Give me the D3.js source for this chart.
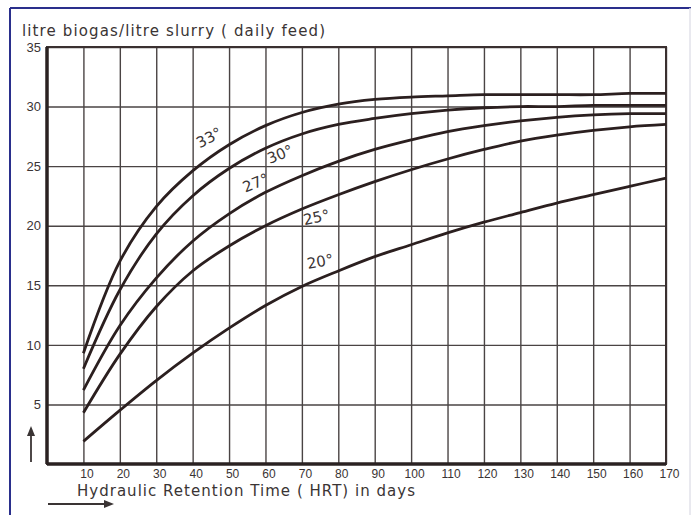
<!DOCTYPE html>
<html>
<head>
<meta charset="utf-8">
<script src="https://cdn.jsdelivr.net/npm/d3@7"></script>
<style>
  body { margin: 0; background: #fff; }
  svg { display: block; font-family: "DejaVu Sans", sans-serif; }
  .grid line { stroke: #4a4444; stroke-width: 1.4; }
  .grid text { fill: #3a3434; font-size: 12px; }
</style>
</head>
<body>
<div id="chart"></div>
<script>
// chart values
var hrtDays = [10, 20, 30, 40, 50, 60, 70, 80, 90, 100, 110, 120, 130, 140, 150, 160, 170];
var tempLabels = ["33°", "30°", "27°", "25°", "20°"];
var gas33 = [9.3, 17.0, 21.6, 24.6, 26.8, 28.4, 29.5, 30.2, 30.6, 30.8, 30.9, 31.0, 31.0, 31.0, 31.0, 31.1, 31.1];
var gas30 = [8.0, 14.6, 19.3, 22.5, 24.8, 26.5, 27.7, 28.5, 29.0, 29.4, 29.7, 29.9, 30.0, 30.0, 30.1, 30.1, 30.1];
var gas27 = [6.2, 11.6, 15.6, 18.7, 21.0, 22.8, 24.2, 25.4, 26.4, 27.2, 27.9, 28.4, 28.8, 29.1, 29.3, 29.4, 29.4];
var gas25 = [4.3, 9.2, 13.2, 16.2, 18.3, 20.0, 21.4, 22.6, 23.7, 24.7, 25.6, 26.4, 27.1, 27.6, 28.0, 28.3, 28.5];
var gas20 = [1.9, 4.5, 7.0, 9.3, 11.4, 13.3, 14.9, 16.2, 17.4, 18.4, 19.4, 20.3, 21.1, 21.9, 22.6, 23.3, 24.0];
var xTicks = [10, 20, 30, 40, 50, 60, 70, 80, 90, 100, 110, 120, 130, 140, 150, 160, 170];
var yTicks = [5, 10, 15, 20, 25, 30, 35];

var svgWidth = 693;
var svgHeight = 515;

var chartMargin = {
    top: 47,
    right: 27,
    left: 47,
    bottom: 51};

var chartWidth = svgWidth - chartMargin.left - chartMargin.right;
var chartHeight = svgHeight - chartMargin.top - chartMargin.bottom;

var svg = d3.select("#chart")
    .append("svg")
    .attr("width", svgWidth)
    .attr("height", svgHeight);

// picture frame
svg.append("line").attr("x1", 10).attr("y1", 8).attr("x2", 10).attr("y2", 515)
    .attr("stroke", "#2a2f8c").attr("stroke-width", 2);
svg.append("line").attr("x1", 10).attr("y1", 8).attr("x2", 691).attr("y2", 8)
    .attr("stroke", "#2a2f8c").attr("stroke-width", 2);
svg.append("line").attr("x1", 690).attr("y1", 8).attr("x2", 690).attr("y2", 515)
    .attr("stroke", "#e2e2ea").attr("stroke-width", 1.5);

var chartGroup = svg.append("g")
    .attr("transform", `translate(${chartMargin.left}, ${chartMargin.top})`);

var xLinearScale = d3.scaleLinear().domain([0, 170]).range([0, chartWidth]);
var yLinearScale = d3.scaleLinear().domain([0, 35]).range([chartHeight, 0]);

// grid via axes
var bottomAxis = d3.axisBottom(xLinearScale)
    .tickValues(xTicks)
    .tickSizeInner(-chartHeight)
    .tickSizeOuter(0)
    .tickPadding(5);
var leftAxis = d3.axisLeft(yLinearScale)
    .tickValues(yTicks)
    .tickSizeInner(-chartWidth)
    .tickSizeOuter(0)
    .tickPadding(6);

var xAxis = chartGroup.append("g")
    .attr("class", "grid")
    .attr("transform", `translate(0, ${chartHeight})`)
    .call(bottomAxis);
xAxis.select(".domain").remove();
xAxis.selectAll("text").attr("dx", "3px");

var yAxis = chartGroup.append("g")
    .attr("class", "grid")
    .call(leftAxis);
yAxis.select(".domain").remove();
yAxis.selectAll("text").style("font-size", "13px");

// plot border
chartGroup.append("rect")
    .attr("x", 0).attr("y", 0)
    .attr("width", chartWidth).attr("height", chartHeight)
    .attr("fill", "none").attr("stroke", "#3a3030").attr("stroke-width", 2);
chartGroup.append("line")
    .attr("x1", 0).attr("y1", 0).attr("x2", 0).attr("y2", chartHeight)
    .attr("stroke", "#2a2222").attr("stroke-width", 3.5);
chartGroup.append("line")
    .attr("x1", 0).attr("y1", chartHeight).attr("x2", chartWidth).attr("y2", chartHeight)
    .attr("stroke", "#2a2222").attr("stroke-width", 3.5);

// curves
var series = [gas33, gas30, gas27, gas25, gas20];
var line = d3.line()
    .x((d, i) => xLinearScale(hrtDays[i]))
    .y(d => yLinearScale(d))
    .curve(d3.curveCatmullRom.alpha(0.5));

chartGroup.selectAll(".curve")
    .data(series)
    .enter()
    .append("path")
    .attr("class", "curve")
    .attr("d", line)
    .attr("fill", "none")
    .attr("stroke", "#2b1f1f")
    .attr("stroke-width", 2.8);

// curve labels (position in days / value, rotation)
var labelSpots = [[44.5, 27.4, -28], [64, 26.0, -22], [57.3, 23.6, -22], [74, 20.7, -12], [75, 17.0, -10]];
chartGroup.selectAll(".tlabel")
    .data(tempLabels)
    .enter()
    .append("text")
    .attr("class", "tlabel")
    .attr("transform", (d, i) => `translate(${xLinearScale(labelSpots[i][0])}, ${yLinearScale(labelSpots[i][1])}) rotate(${labelSpots[i][2]})`)
    .attr("text-anchor", "middle")
    .attr("dy", "0.35em")
    .style("font-size", "15px")
    .attr("fill", "#3a3434")
    .text(d => d);

// titles
svg.append("text")
    .attr("x", 22)
    .attr("y", 36)
    .attr("textLength", 303)
    .style("font-size", "15px")
    .attr("fill", "#3a3434")
    .text("litre biogas/litre slurry ( daily feed)");

svg.append("text")
    .attr("x", 77)
    .attr("y", 496)
    .attr("textLength", 338)
    .style("font-size", "15px")
    .attr("fill", "#3a3434")
    .text("Hydraulic Retention Time ( HRT) in days");

// arrows
var arrowColor = "#3a3434";
svg.append("line").attr("x1", 48).attr("y1", 504).attr("x2", 110).attr("y2", 504)
    .attr("stroke", arrowColor).attr("stroke-width", 1.8);
svg.append("path").attr("d", "M104,500 L114,504 L104,508 Z").attr("fill", arrowColor);
svg.append("line").attr("x1", 31).attr("y1", 462).attr("x2", 31).attr("y2", 432)
    .attr("stroke", arrowColor).attr("stroke-width", 1.8);
svg.append("path").attr("d", "M27,436 L31,426 L35,436 Z").attr("fill", arrowColor);
</script>
</body>
</html>
